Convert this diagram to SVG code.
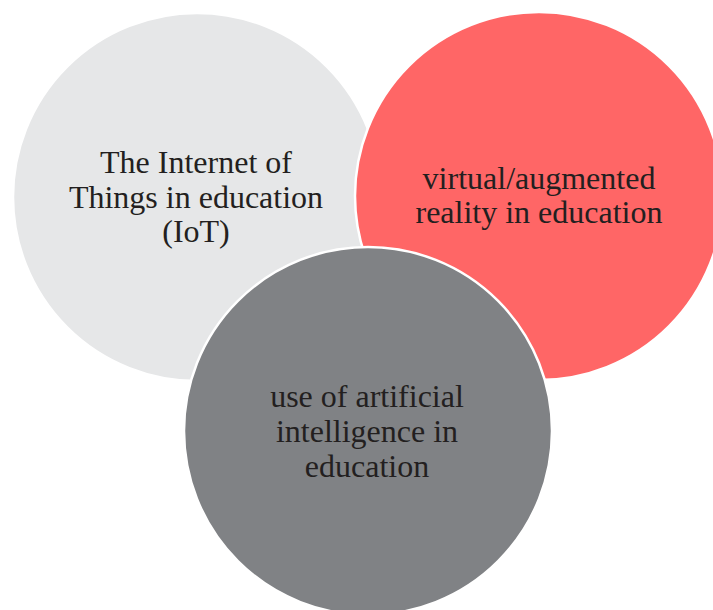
<svg xmlns="http://www.w3.org/2000/svg" width="713" height="610" viewBox="0 0 713 610">
<style>
.c{stroke:#ffffff;stroke-width:2.5}
.t{font-family:"Liberation Serif","DejaVu Serif",serif;font-size:32px;fill:#231f20;text-anchor:middle}
</style>
<rect width="713" height="610" fill="#ffffff"/>
<g id="connectors"></g>
<g id="node-iot">
<circle class="c" cx="197" cy="197" r="184" fill="#e6e7e8"/>
<text class="t" x="196" y="173">The Internet of</text>
<text class="t" x="196" y="208">Things in education</text>
<text class="t" x="196" y="242">(IoT)</text>
</g>
<g id="node-vr">
<circle class="c" cx="539" cy="196" r="184" fill="#ff6666"/>
<text class="t" x="539" y="189">virtual/augmented</text>
<text class="t" x="539" y="223">reality in education</text>
</g>
<g id="node-ai">
<circle class="c" cx="368" cy="431" r="184" fill="#808285"/>
<text class="t" x="367" y="407">use of artificial</text>
<text class="t" x="367" y="442">intelligence in</text>
<text class="t" x="367" y="477">education</text>
</g>
</svg>
